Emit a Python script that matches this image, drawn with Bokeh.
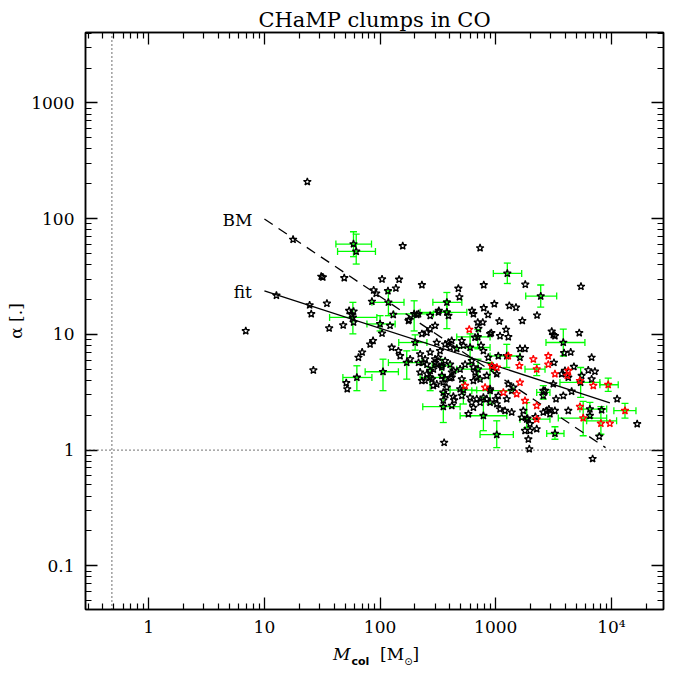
import math
from bokeh.plotting import figure
from bokeh.layouts import column
from bokeh.models import (LogAxis, FixedTicker, CustomJSTickFormatter, Span, Label,
                          Whisker, TeeHead, ColumnDataSource, Range1d, Div)
from bokeh.embed import file_html
from bokeh.resources import INLINE

# ---------------- data ----------------
blk_mass = [6.9, 23.5, 17.7, 12.7, 31, 32, 24.6, 25.4, 34.7, 36.3,
            26.5, 49, 157, 104, 146, 137, 88, 92.5, 117, 48,
            54, 51, 52, 85, 130, 215, 176, 271, 319, 390,
            104, 87, 82, 70, 65, 126, 144, 149, 182, 222,
            230, 254, 271, 309, 390, 403, 245, 289, 309, 342,
            365, 403, 309, 370, 430, 358, 509, 525, 460, 662,
            893, 1089, 1284, 782, 863, 1052, 1620, 1790, 1620, 3140,
            365, 352, 437, 1284, 1419, 1374, 1245, 1202, 1052, 893,
            782, 685, 641, 732, 836, 1020, 953, 580, 1950, 1676,
            1790, 1977, 1913, 2260, 2757, 2942, 3245, 2576, 417, 3047,
            3250, 5270, 4446, 6745, 3186, 4740, 6310, 7200, 3715, 3965,
            4236, 5530, 6745, 3143, 4530, 3837, 3320, 2667, 2576, 11200,
            16700, 4236, 6516, 8225, 7850, 6880, 5455, 732, 230, 475,
            485, 788, 1800, 972, 788, 624, 641, 858, 1310, 1496,
            1074, 1697, 2275, 772, 699, 708, 1228, 916, 746, 57,
            59, 122, 178, 208, 299, 322, 403, 432, 417, 377,
            492, 543, 621, 641, 662, 492, 509, 600, 621, 641,
            685, 732, 836, 893, 1000, 1020, 1089, 1374, 1730, 1880,
            1977, 2200, 2576, 2880, 237, 254, 299, 319, 254, 281,
            342, 509, 222, 271, 215, 245, 299, 330, 365, 416,
            271, 230, 352, 417, 289, 58.9, 62.2, 1259, 2448, 378,
            378, 58.2, 59, 118, 197, 100, 170, 106, 63, 271,
            352, 352, 3837, 3900, 5420, 782, 1020, 3250, 1245, 600,
            893, 1853, 525, 703, 700, 201, 342, 6516]
blk_alpha = [10.7, 208, 66, 21.7, 31.6, 31.2, 17.9, 15, 18.5, 11.3,
             4.9, 30.7, 58, 30, 29.8, 25, 24.1, 22.6, 23.7, 12,
             16, 3.8, 3.37, 19.2, 14.8, 15, 13.1, 14.5, 15.5, 14.5,
             10.2, 8.8, 8.2, 7.0, 6.3, 7.7, 7.2, 6.5, 6.1, 4.7,
             10.1, 10.4, 11.1, 8.5, 8.5, 7.7, 4.0, 5.0, 5.5, 5.2,
             4.1, 4.2, 3.7, 3.0, 2.9, 1.16, 8.8, 8.0, 7.5, 9.4,
             10.1, 9.7, 9.5, 7.2, 6.3, 6.5, 7.5, 7.5, 6.3, 9.9,
             5.9, 3.15, 2.7, 3.72, 3.48, 3.26, 2.76, 2.19, 2.95, 3.37,
             2.85, 4.24, 3.97, 4.1, 4.39, 4.54, 5.17, 2.05, 1.02, 1.91,
             1.47, 1.47, 1.24, 1.52, 2.19, 2.05, 2.19, 3.26, 2.42, 10.6,
             9.7, 10.3, 7.0, 6.3, 5.7, 5.25, 4.9, 4.78, 4.54, 4.85,
             4.24, 4.39, 4.1, 3.72, 3.21, 2.95, 2.76, 3.26, 2.95, 2.76,
             1.68, 2.19, 1.98, 2.22, 1.31, 0.84, 25.9, 55.7, 26.7, 24.9,
             21, 26.7, 27, 18.3, 16.9, 16, 15, 14.8, 17.7, 17.1,
             13, 13.1, 14.6, 12.7, 12.7, 11.2, 11.0, 10.3, 8, 14.8,
             12.7, 11.9, 13.4, 14.8, 11.9, 16, 5.5, 4.85, 4.24, 3.48,
             5.0, 5.5, 5.9, 5.2, 4.7, 3.37, 2.95, 2.85, 2.58, 2.33,
             2.76, 2.58, 2.76, 2.58, 2.76, 2.5, 2.26, 2.12, 2.19, 1.88,
             1.68, 1.94, 2.12, 2.26, 5.7, 5.5, 5.7, 6.3, 4.54, 4.1,
             4.39, 4.1, 6.75, 7.0, 5.7, 6.1, 6.1, 7.2, 8.2, 8.8,
             4.85, 3.97, 3.85, 4.7, 3.6, 60.3, 52.1, 33.6, 21.4, 18.9,
             15.5, 14.0, 15.8, 18.9, 15, 12.3, 5.7, 4.75, 4.24, 4.24,
             2.37, 2.7, 8.5, 6.9, 3.84, 1.98, 1.36, 1.39, 6.5, 7.7,
             3.26, 1.85, 3.3, 5.0, 9.5, 8.5, 5.35, 2.26]

red_mass = [590, 1600, 2260, 2845, 2845, 3250, 543, 809, 1164, 1620,
            1517, 1790, 2260, 2260, 4236, 4150, 5341, 6970, 9380, 13100,
            5341, 5700, 8110, 9700, 1284, 2113, 924, 1023]
red_alpha = [11, 5.35, 5.0, 6.5, 5.5, 4.54, 3.6, 3.48, 3.15, 3.84,
             3.05, 2.67, 2.42, 1.85, 4.85, 4.4, 3.97, 3.6, 3.67, 2.19,
             2.37, 1.89, 1.7, 1.7, 6.5, 6.1, 5.35, 5.17]

err_mass = [58.9, 62.2, 1259, 2448, 378, 378, 58.2, 118, 197, 100,
            170, 106, 63, 271, 352, 3837, 5420, 9380, 13100, 5700,
            8110, 6516, 3250, 782, 1020, 2260, 1245, 600, 893, 1853,
            2576, 525, 703, 700, 201, 342]
err_alpha = [60.3, 52.1, 33.6, 21.4, 18.9, 15.5, 14.0, 18.9, 15, 12.3,
             5.7, 4.75, 4.24, 4.24, 2.37, 8.5, 3.84, 3.67, 2.19, 1.89,
             1.79, 2.26, 1.39, 1.98, 1.36, 5.0, 6.5, 7.7, 3.26, 1.85,
             3.15, 3.3, 5.0, 9.5, 8.5, 5.35]
err_mass_lo = [41.5, 42.9, 953, 1816, 286, 222, 36.6, 85, 131, 77,
               118, 74.3, 47.7, 222, 234, 2718, 3590, 7950, 10500, 3473,
               6110, 5341, 2757, 492, 732, 1790, 893, 460, 621, 1620,
               2260, 403, 460, 460, 145, 282]
err_mass_hi = [84.3, 91.2, 1676, 3364, 509, 562, 93.8, 161, 289, 135,
               230, 144, 85, 365, 492, 5900, 7950, 11450, 16300, 9100,
               11090, 9100, 3890, 1245, 1419, 2667, 1620, 893, 1419, 2942,
               2942, 685, 952, 893, 254, 403]
err_alpha_lo = [46.9, 40.5, 27.5, 17.2, 16.0, 11.2, 10.1, 14.5, 10.7, 10.7,
                4.1, 3.26, 3.26, 3.26, 1.73, 6.5, 2.85, 3.21, 1.89, 1.33,
                1.37, 1.91, 1.24, 1.47, 1.05, 4.39, 5.17, 5.5, 2.5, 1.56,
                2.76, 2.5, 4.1, 7.5, 7.3, 4.39]
err_alpha_hi = [77, 73.6, 41.3, 26.7, 23, 19.5, 18.9, 23.8, 19.5, 14.5,
                7.2, 6.1, 5.35, 5.17, 3.15, 11.1, 5.17, 4.19, 2.53, 2.63,
                2.37, 2.58, 1.59, 2.85, 1.79, 5.5, 8.2, 10.1, 5.7, 2.57,
                3.6, 3.97, 6.1, 11, 9.9, 6.1]

fit_mass = [10, 9700]
fit_alpha = [23.8, 2.56]
bm_mass = [10, 8900]
bm_alpha = [99.3, 1.05]

x_major = [1, 10, 100, 1000, 10000]
y_major = [0.1, 1, 10, 100, 1000]
mass_limit = 0.48
alpha_limit = 1.0

# ---------------- figure ----------------
FONT = "DejaVu Serif"
GREEN = "#00ff00"
RED = "#ff0000"

p = figure(width=679, height=640, x_axis_type="log", y_axis_type="log",
           x_range=Range1d(0.284, 28200), y_range=Range1d(0.0419, 4060),
           output_backend="svg", toolbar_location=None,
           min_border_left=85, min_border_right=16, min_border_top=32,
           min_border_bottom=31, title="CHaMP clumps in CO")
p.title.align = "center"
p.title.text_font = FONT
p.title.text_font_size = "21px"
p.title.text_font_style = "normal"
p.title.text_color = "black"
p.title.standoff = 2
p.title.offset = 0
p.xgrid.visible = False
p.ygrid.visible = False
p.outline_line_color = "black"
p.outline_line_width = 1.5
p.background_fill_color = "white"
p.border_fill_color = "white"

x_minor = [k * 10.0 ** n for n in range(-1, 5) for k in range(2, 10)]
y_minor = [k * 10.0 ** n for n in range(-2, 4) for k in range(2, 10)]

fmt = CustomJSTickFormatter(code="""
    if (tick >= 9999) { return "10\u2074"; }
    if (tick < 0.5) { return "0.1"; }
    return Math.round(tick).toString();
""")
blank = CustomJSTickFormatter(code="return '';")


def style(ax, major, minor, labels):
    ax.ticker = FixedTicker(ticks=major, minor_ticks=minor)
    ax.major_tick_in = 12
    ax.major_tick_out = 0
    ax.minor_tick_in = 6
    ax.minor_tick_out = 0
    ax.axis_line_width = 1.5
    ax.axis_line_color = "black"
    ax.major_tick_line_width = 1.3
    ax.minor_tick_line_width = 1.2
    ax.major_tick_line_color = "black"
    ax.minor_tick_line_color = "black"
    if labels:
        ax.formatter = fmt
        ax.major_label_text_font = FONT
        ax.major_label_text_font_size = "17px"
        ax.major_label_text_color = "black"
    else:
        ax.formatter = blank
        ax.major_label_text_font_size = "0px"
        ax.major_label_standoff = 0


style(p.xaxis[0], x_major, x_minor, True)
p.xaxis[0].major_label_standoff = 7
style(p.yaxis[0], y_major, y_minor, True)
p.yaxis[0].major_label_standoff = 11
p.yaxis[0].axis_label = "\u03b1 [.]"
p.yaxis[0].axis_label_text_font = FONT
p.yaxis[0].axis_label_text_font_size = "17px"
p.yaxis[0].axis_label_text_font_style = "normal"
p.yaxis[0].axis_label_text_color = "black"
p.yaxis[0].axis_label_standoff = 2
top = LogAxis()
style(top, x_major, x_minor, False)
right = LogAxis()
style(right, y_major, y_minor, False)
p.add_layout(top, "above")
p.add_layout(right, "right")

# reference lines
p.add_layout(Span(location=mass_limit, dimension="height", line_color="#222222",
                  line_width=1.3, line_dash="1 3"))
p.add_layout(Span(location=alpha_limit, dimension="width", line_color="#222222",
                  line_width=1.3, line_dash="1 3"))

# error bars
esrc = ColumnDataSource(dict(m=err_mass, a=err_alpha, mlo=err_mass_lo, mhi=err_mass_hi,
                             alo=err_alpha_lo, ahi=err_alpha_hi))
for dim, base, lo, hi in (("width", "a", "mlo", "mhi"), ("height", "m", "alo", "ahi")):
    p.add_layout(Whisker(source=esrc, base=base, lower=lo, upper=hi, dimension=dim,
                         line_color=GREEN, line_width=1.3,
                         upper_head=TeeHead(size=7, line_color=GREEN, line_width=1.3),
                         lower_head=TeeHead(size=7, line_color=GREEN, line_width=1.3)))

# fit and BM lines
p.line(bm_mass, bm_alpha, line_color="black", line_width=1.3, line_dash="10 7")
p.line(fit_mass, fit_alpha, line_color="black", line_width=1.3)

# stars
p.scatter(blk_mass, blk_alpha, marker="star", size=8, fill_color=None,
          line_color="black", line_width=1.3)
p.scatter(red_mass, red_alpha, marker="star", size=8, fill_color=None,
          line_color=RED, line_width=1.3)

# line labels
p.add_layout(Label(x=7.86, y=97.8, text="BM", text_align="right",
                   text_baseline="alphabetic", text_font=FONT,
                   text_font_size="17px", text_color="black"))
p.add_layout(Label(x=7.8, y=23.0, text="fit", text_align="right",
                   text_baseline="alphabetic", text_font=FONT,
                   text_font_size="17px", text_color="black"))

# x axis label (with italic M and subscripts) below the plot
xlabel = Div(
    text=("<div style=\"position:relative;width:679px;height:33px;\">"
          "<span style=\"position:absolute;left:333px;top:4px;white-space:nowrap;"
          "font-family:'DejaVu Serif';font-size:17px;color:black;line-height:20px;\">"
          "<i>M</i><span style=\"font-family:'DejaVu Sans';font-weight:bold;"
          "font-size:11px;position:relative;top:5px;margin-left:1px;\">col</span>"
          "&nbsp;&nbsp;[M<span style=\"font-family:'DejaVu Sans';font-size:10px;"
          "position:relative;top:5px;\">\u2299</span>]</span></div>"),
    width=679, height=33, margin=0)

layout = column(p, xlabel, spacing=0)
open("out.html", "w").write(file_html(layout, INLINE))
